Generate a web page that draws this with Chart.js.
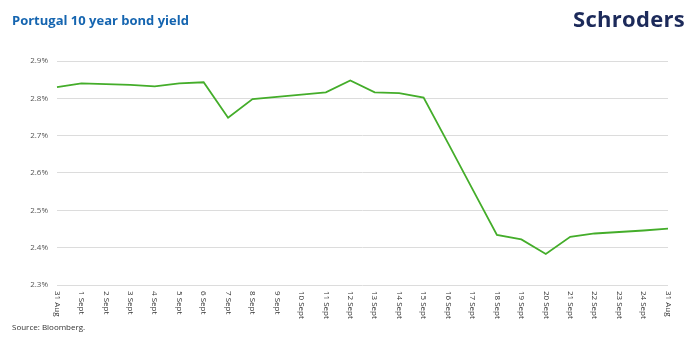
<!DOCTYPE html>
<html>
<head>
<meta charset="utf-8">
<script src="https://cdn.jsdelivr.net/npm/chart.js@4.4.1/dist/chart.umd.min.js"></script>
<style>
  html, body { margin: 0; padding: 0; background: #fff; }
  #wrap { position: relative; width: 700px; height: 350px; overflow: hidden; }
  #title { position: absolute; left: 12px; top: 11px; font: bold 13px "Open Sans", sans-serif; color: #1565b0; }
  #logo { position: absolute; left: 573px; top: 3px; font: bold 22px "Open Sans", sans-serif; color: #1c2a5a; letter-spacing: 0.3px; }
  #source { position: absolute; left: 12px; top: 321px; font: 8px "Open Sans", sans-serif; color: #333; }
  canvas { position: absolute; left: 0; top: 0; }
</style>
</head>
<body>
<div id="wrap">
  <canvas id="myChart" width="700" height="350"></canvas>
  <div id="title">Portugal 10 year bond yield</div>
  <div id="logo">Schroders</div>
  <div id="source">Source: Bloomberg.</div>
</div>
<script>
var dates = ['31 Aug', '1 Sept', '2 Sept', '3 Sept', '4 Sept', '5 Sept', '6 Sept', '7 Sept', '8 Sept',
    '9 Sept', '10 Sept', '11 Sept', '12 Sept', '13 Sept', '14 Sept', '15 Sept', '16 Sept', '17 Sept',
    '18 Sept', '19 Sept', '20 Sept', '21 Sept', '22 Sept', '23 Sept', '24 Sept', '31 Aug'];

var yields = [2.830, 2.840, 2.838, 2.836, 2.832, 2.840, 2.843, 2.748, 2.798,
    2.804, 2.810, 2.816, 2.848, 2.816, 2.814, 2.802, 2.680, 2.557,
    2.434, 2.422, 2.383, 2.429, 2.438, 2.442, 2.446, 2.451];

var yTicks = [2.3, 2.4, 2.5, 2.6, 2.7, 2.8, 2.9];

// x labels read top-to-bottom, so draw them by hand from the scale
var downLabels = {
    id: 'downLabels',
    afterDraw: function (chart) {
        var ctx = chart.ctx;
        var x = chart.scales.x;
        ctx.save();
        ctx.font = '8px "Open Sans", sans-serif';
        ctx.fillStyle = '#333';
        ctx.textAlign = 'left';
        ctx.textBaseline = 'middle';
        dates.forEach(function (d, i) {
            var px = x.getPixelForTick(i);
            ctx.save();
            ctx.translate(px, x.top + 6);
            ctx.rotate(Math.PI / 2);
            ctx.fillText(d, 0, 0);
            ctx.restore();
        });
        ctx.restore();
    }
};

var ctx = document.getElementById('myChart');
var myChart = new Chart(ctx, {
    type: 'line',
    data: {
        labels: dates,
        datasets: [{
            data: yields,
            borderColor: '#44ad2a',
            borderWidth: 1.8,
            pointRadius: 0,
            tension: 0,
            fill: false
        }]
    },
    options: {
        responsive: false,
        animation: false,
        layout: { padding: { left: 0, right: 32, top: 61, bottom: 25 } },
        plugins: {
            legend: { display: false },
            tooltip: { enabled: false }
        },
        scales: {
            x: {
                offset: false,
                grid: { display: false },
                border: { display: false },
                ticks: { display: false },
                afterFit: function (scale) { scale.height = 40; }
            },
            y: {
                min: 2.3,
                max: 2.9,
                afterBuildTicks: function (scale) {
                    scale.ticks = yTicks.map(function (v) { return { value: v }; });
                },
                grid: { color: '#dcdcdc', lineWidth: 1, drawTicks: false },
                border: { display: false },
                ticks: {
                    padding: 9,
                    color: '#555',
                    font: { family: 'Open Sans', size: 8 },
                    callback: function (v) { return v.toFixed(1) + '%'; }
                },
                afterFit: function (scale) { scale.width = 57; }
            }
        }
    },
    plugins: [downLabels]
});
</script>
</body>
</html>
